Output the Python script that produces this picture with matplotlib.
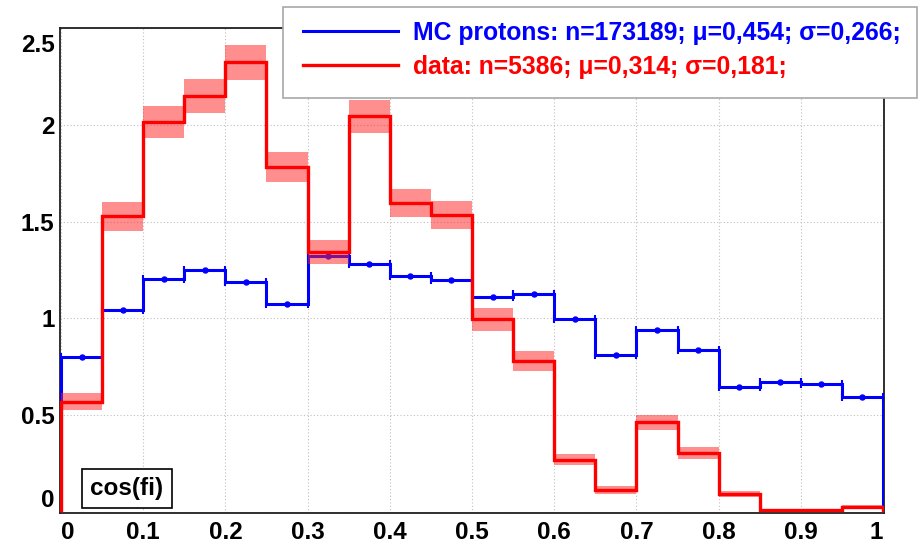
import numpy as np
import matplotlib
matplotlib.use('Agg')
import matplotlib.pyplot as plt
from matplotlib.lines import Line2D
from matplotlib.patches import Rectangle
from matplotlib.transforms import ScaledTranslation

plt.rcParams['font.family'] = ['Liberation Sans', 'DejaVu Sans']

# ---- data ----
bin_edges = np.linspace(0.0, 1.0, 21)
mc_values = [0.802, 1.041, 1.203, 1.249, 1.189, 1.072, 1.323, 1.283, 1.220, 1.196,
             1.111, 1.127, 0.995, 0.809, 0.941, 0.837, 0.648, 0.672, 0.663, 0.594]
data_values = [0.570, 1.527, 2.013, 2.151, 2.323, 1.781, 1.343, 2.044, 1.598, 1.536,
               0.995, 0.781, 0.270, 0.115, 0.464, 0.304, 0.093, 0.008, 0.008, 0.026]
data_errors = [0.043, 0.073, 0.083, 0.088, 0.090, 0.077, 0.064, 0.084, 0.073, 0.073,
               0.058, 0.050, 0.028, 0.020, 0.039, 0.032, 0.017, 0.008, 0.008, 0.010]
x_ticks = [0, 0.1, 0.2, 0.3, 0.4, 0.5, 0.6, 0.7, 0.8, 0.9, 1.0]
x_tick_labels = ['0', '0.1', '0.2', '0.3', '0.4', '0.5', '0.6', '0.7', '0.8', '0.9', '1']
y_ticks = [0, 0.5, 1.0, 1.5, 2.0, 2.5]
y_tick_labels = ['0', '0.5', '1', '1.5', '2', '2.5']
legend_labels = ['MC protons: n=173189; \u03bc=0,454; \u03c3=0,266;',
                 'data: n=5386; \u03bc=0,314; \u03c3=0,181;']
variable_label = 'cos(fi)'

W, H = 921, 545
fig = plt.figure(figsize=(W / 100, H / 100), dpi=100)
ax = fig.add_axes([60 / W, 32 / H, (884 - 60) / W, (513 - 28) / H])

edges = np.asarray(bin_edges)
centers = 0.5 * (edges[:-1] + edges[1:])
half = 0.5 * (edges[1] - edges[0])
mc = np.asarray(mc_values)
dv = np.asarray(data_values)
de = np.asarray(data_errors)

# MC histogram
ax.stairs(mc, edges, baseline=0, color='#0000ff', lw=2.2, zorder=3)
ax.errorbar(centers, mc, xerr=half, fmt='o', ms=3.6, color='#0000ff',
            elinewidth=0, capsize=3, capthick=1.5, zorder=3)

# data error bands
ax.bar(centers, 2 * de, width=2 * half, bottom=dv - de, color='#ff2020',
       alpha=0.5, linewidth=0, zorder=4)
# data histogram
ax.stairs(dv, edges, baseline=0, color='#ff0000', lw=2.4, zorder=5)

ax.set_xlim(-0.0012, 1.0012)
ax.set_ylim(-0.005, 2.495)

ax.set_xticks(x_ticks)
ax.set_xticklabels(x_tick_labels)
ax.set_yticks(y_ticks)
ax.set_yticklabels(y_tick_labels)
ax.tick_params(axis='both', length=0, labelsize=17.5)
ax.tick_params(axis='x', pad=6)
ax.tick_params(axis='y', pad=4)
for lab in ax.get_xticklabels() + ax.get_yticklabels():
    lab.set_fontweight('bold')
xl = ax.get_xticklabels()
xl[0].set_ha('left')
xl[-1].set_ha('right')
yl = ax.get_yticklabels()
yl[0].set_va('bottom')
yl[-1].set_va('top')
yl[-1].set_transform(yl[-1].get_transform() + ScaledTranslation(0, -0.06, fig.dpi_scale_trans))

ax.grid(True, linestyle=(0, (1, 2)), color='#c0c0c0', lw=0.8)
ax.set_axisbelow(True)
for s in ax.spines.values():
    s.set_color('#202020')
    s.set_linewidth(1.3)

# variable label box
ax.text(0.0813, 0.0515, variable_label, transform=ax.transAxes, ha='center', va='center',
        fontsize=17.5, fontweight='bold', zorder=6,
        bbox=dict(boxstyle='square,pad=0.33', facecolor='white', edgecolor='black', lw=1.2))

# legend frame
fig.patches.append(Rectangle((283 / W, 1 - 98 / H), (917 - 283) / W, (98 - 7) / H,
                             transform=fig.transFigure, facecolor='white',
                             edgecolor='#a8a8a8', lw=1.2, zorder=9))
# legend
handles = [Line2D([], [], color='#0000ff', lw=2.2), Line2D([], [], color='#ff0000', lw=2.4)]
leg = fig.legend(handles, legend_labels, loc='upper left',
                 bbox_to_anchor=(303 / W, 1 - 21 / H), frameon=False,
                 prop={'size': 17.8, 'weight': 'bold'}, borderaxespad=0, borderpad=0,
                 handlelength=3.85, handletextpad=0.6, labelspacing=0.4)
for t, c in zip(leg.get_texts(), ['#0000ff', '#ff0000']):
    t.set_color(c)
leg.set_zorder(10)

fig.savefig('out.png', dpi=100, facecolor='white')
